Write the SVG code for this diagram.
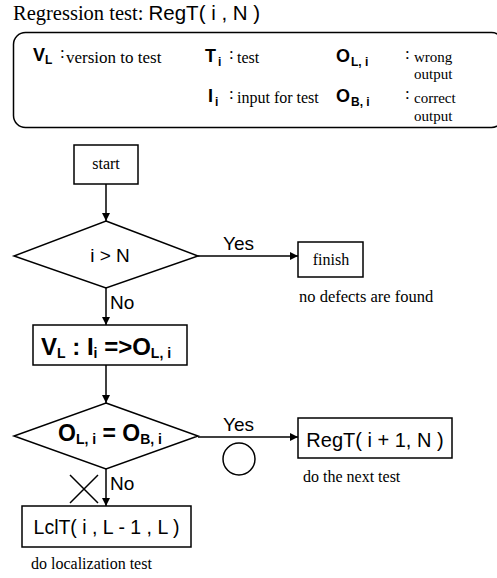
<svg xmlns="http://www.w3.org/2000/svg" width="497" height="578" viewBox="0 0 497 578">
  <style>
    .serif { font-family: "Liberation Serif", "Times New Roman", serif; fill: #000; }
    .sans { font-family: "Liberation Sans", Arial, sans-serif; fill: #000; }
    .b { font-weight: bold; }
    .box { fill: #fff; stroke: #000; stroke-width: 1.5; }
    .edge { fill: none; stroke: #000; stroke-width: 1.5; }
    .lbl { font-size: 19px; }
    .note { font-size: 16px; }
  </style>
  <defs>
    <marker id="arrow" viewBox="0 0 10 10" refX="10" refY="5" markerWidth="8" markerHeight="8" orient="auto" markerUnits="userSpaceOnUse">
      <path d="M0,0 L10,5 L0,10 z" fill="#000"/>
    </marker>
  </defs>

  <rect width="497" height="578" fill="#fff"/>

  <!-- title -->
  <text x="13" y="20" font-size="20.5"><tspan class="serif">Regression test: </tspan><tspan class="sans">RegT( i , N )</tspan></text>

  <!-- legend -->
  <g id="legend">
    <rect class="box" x="13.5" y="32.5" width="490" height="95" rx="12" ry="12"/>
    <text class="sans b" x="33" y="61" font-size="18">V<tspan font-size="12" dy="3">L</tspan></text>
    <text class="serif" x="60" y="58" font-size="17">:</text>
    <text class="serif" x="66" y="63" font-size="17">version to test</text>

    <text class="sans b" x="205" y="62" font-size="18">T<tspan font-size="12" dx="2" dy="4">i</tspan></text>
    <text class="serif" x="229" y="59" font-size="17">:</text>
    <text class="serif" x="237" y="63" font-size="16">test</text>

    <text class="sans b" x="208" y="102" font-size="18">I<tspan font-size="12" dx="2" dy="4">i</tspan></text>
    <text class="serif" x="229" y="99" font-size="17">:</text>
    <text class="serif" x="237" y="103" font-size="16">input for test</text>

    <text class="sans b" x="336" y="62" font-size="18">O<tspan font-size="12" dx="1" dy="4">L, i</tspan></text>
    <text class="serif" x="405" y="59" font-size="17">:</text>
    <text class="serif" x="414" y="62" font-size="15">wrong</text>
    <text class="serif" x="414" y="79" font-size="15">output</text>

    <text class="sans b" x="336" y="102" font-size="18">O<tspan font-size="12" dx="1" dy="4">B, i</tspan></text>
    <text class="serif" x="405" y="99" font-size="17">:</text>
    <text class="serif" x="414" y="103" font-size="15">correct</text>
    <text class="serif" x="414" y="121" font-size="15">output</text>
  </g>

  <!-- connectors -->
  <g id="connectors">
    <line class="edge" x1="106" y1="184" x2="106" y2="221" marker-end="url(#arrow)"/>
    <line class="edge" x1="198" y1="256" x2="298" y2="256" marker-end="url(#arrow)"/>
    <line class="edge" x1="106" y1="288" x2="106" y2="325" marker-end="url(#arrow)"/>
    <line class="edge" x1="106" y1="365" x2="106" y2="403" marker-end="url(#arrow)"/>
    <line class="edge" x1="198" y1="437" x2="298" y2="437" marker-end="url(#arrow)"/>
    <line class="edge" x1="106" y1="469" x2="106" y2="506" marker-end="url(#arrow)"/>
    <text class="sans lbl" x="223" y="250">Yes</text>
    <text class="sans lbl" x="110" y="309">No</text>
    <text class="sans lbl" x="223" y="431">Yes</text>
    <text class="sans lbl" x="110" y="490">No</text>
    <!-- pass / fail marks -->
    <circle class="edge" cx="239" cy="459" r="16"/>
    <path class="edge" d="M70,475 L98,503 M98,475 L70,503"/>
  </g>

  <g id="start">
    <rect class="box" x="74" y="145" width="64" height="39"/>
    <text class="serif note" x="106" y="169" text-anchor="middle">start</text>
  </g>

  <g id="check-end">
    <polygon class="box" points="106,221 198,256 106,288 14,256"/>
    <text class="sans" x="110" y="262" font-size="19" text-anchor="middle">i &gt; N</text>
  </g>

  <g id="finish">
    <rect class="box" x="298" y="242" width="65" height="35"/>
    <text class="serif note" x="331" y="265" text-anchor="middle">finish</text>
    <text class="serif" x="299" y="302" font-size="16.5">no defects are found</text>
  </g>

  <g id="run-test">
    <rect class="box" x="33" y="325" width="154" height="40"/>
    <text class="sans b" x="41" y="355" font-size="24">V<tspan font-size="14" dy="3">L</tspan><tspan dy="-3"> : I</tspan><tspan font-size="14" dy="3">i</tspan><tspan dy="-3">  =&gt;O</tspan><tspan font-size="14" dy="3">L, i</tspan></text>
  </g>

  <g id="compare">
    <polygon class="box" points="106,403 198,436 106,469 14,436"/>
    <text class="sans b" x="58" y="441" font-size="23">O<tspan font-size="14" dy="3">L, i</tspan><tspan dy="-3"> = O</tspan><tspan font-size="14" dy="3">B, i</tspan></text>
  </g>

  <g id="next-test">
    <rect class="box" x="298" y="418" width="154" height="40"/>
    <text class="sans" x="375" y="447" font-size="20" text-anchor="middle">RegT( i + 1, N )</text>
    <text class="serif note" x="303" y="482">do the next test</text>
  </g>

  <g id="localize">
    <rect class="box" x="22" y="506" width="169" height="41"/>
    <text class="sans" x="106.5" y="534" font-size="19.5" text-anchor="middle">LclT( i , L - 1 , L )</text>
    <text class="serif note" x="31" y="569">do localization test</text>
  </g>
</svg>
